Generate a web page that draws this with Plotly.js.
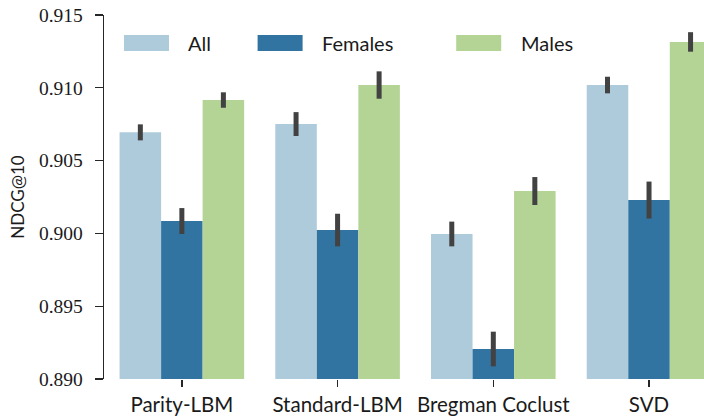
<!DOCTYPE html>
<html>
<head>
<meta charset="utf-8">
<script src="https://cdn.plot.ly/plotly-3.0.1.min.js"></script>
<style>
html,body{margin:0;padding:0;background:#fff;}
#chart{width:704px;height:418px;}
</style>
</head>
<body>
<div id="chart"></div>
<script>
// ---- data ----
const categories = ["Parity-LBM", "Standard-LBM", "Bregman Coclust", "SVD"];
const seriesNames = ["All", "Females", "Males"];
const allValues     = [0.90694, 0.90751, 0.89996, 0.91019];
const femalesValues = [0.90085, 0.90023, 0.89206, 0.90229];
const malesValues   = [0.90916, 0.91019, 0.90291, 0.91315];
const allErrors     = [0.00055, 0.00082, 0.00085, 0.00057];
const femalesErrors = [0.00089, 0.00112, 0.00119, 0.00127];
const malesErrors   = [0.00053, 0.00094, 0.00096, 0.00067];
const yTickValues = [0.890, 0.895, 0.900, 0.905, 0.910, 0.915];
const yTickLabels = ["0.890", "0.895", "0.900", "0.905", "0.910", "0.915"];

// ---- styles ----
const colors = ["#aecbdb", "#3274a1", "#b3d495"];
const values = [allValues, femalesValues, malesValues];
const errors = [allErrors, femalesErrors, malesErrors];
const sansFont = "Lato";
const serifFont = "Liberation Serif";
const textColor = "#1a1a1a";

const traces = seriesNames.map((name, i) => ({
  type: "bar",
  name: name,
  x: categories,
  y: values[i],
  marker: {color: colors[i], line: {width: 0}},
  error_y: {type: "data", array: errors[i], visible: true, color: "#424242", thickness: 5, width: 0},
  showlegend: false,
  hoverinfo: "skip"
}));

// custom legend (wide swatches like matplotlib)
const legendSwatchX = [0.0333, 0.256, 0.587];
const swatchW = 0.075;
const shapes = [];
const annotations = [];
seriesNames.forEach((name, i) => {
  shapes.push({type: "rect", xref: "paper", yref: "paper",
    x0: legendSwatchX[i], x1: legendSwatchX[i] + swatchW, y0: 0.901, y1: 0.945,
    fillcolor: colors[i], line: {width: 0}, layer: "above"});
  annotations.push({xref: "paper", yref: "paper", x: legendSwatchX[i] + swatchW + 0.029, y: 0.923,
    xanchor: "left", yanchor: "middle", text: name, showarrow: false,
    font: {family: sansFont, size: 20, color: textColor}});
});

const layout = {
  width: 704, height: 418,
  font: {family: sansFont},
  margin: {l: 104, r: 0, t: 15, b: 39, pad: 0},
  paper_bgcolor: "#fff", plot_bgcolor: "#fff",
  barmode: "group", bargap: 0.2, bargroupgap: 0,
  showlegend: false,
  xaxis: {
    type: "category", range: [-0.5, 3.353],
    showline: false, showgrid: false, zeroline: false,
    ticks: "outside", ticklen: 7, tickwidth: 1.3, tickcolor: "#262626",
    tickfont: {family: sansFont, size: 20.5, color: textColor},
    fixedrange: true
  },
  yaxis: {
    range: [0.890, 0.915],
    tickmode: "array", tickvals: yTickValues, ticktext: yTickLabels,
    showline: true, linecolor: "#262626", linewidth: 1.3,
    showgrid: false, zeroline: false,
    ticks: "outside", ticklen: 8, tickwidth: 1.3, tickcolor: "#262626",
    tickfont: {family: serifFont, size: 19.5, color: textColor},
    ticklabelstandoff: 8,
    title: {text: "NDCG@10", font: {family: sansFont, size: 17, color: textColor}, standoff: 10},
    fixedrange: true
  },
  shapes: shapes,
  annotations: annotations
};

Plotly.newPlot("chart", traces, layout, {displayModeBar: false, staticPlot: true});
</script>
</body>
</html>
